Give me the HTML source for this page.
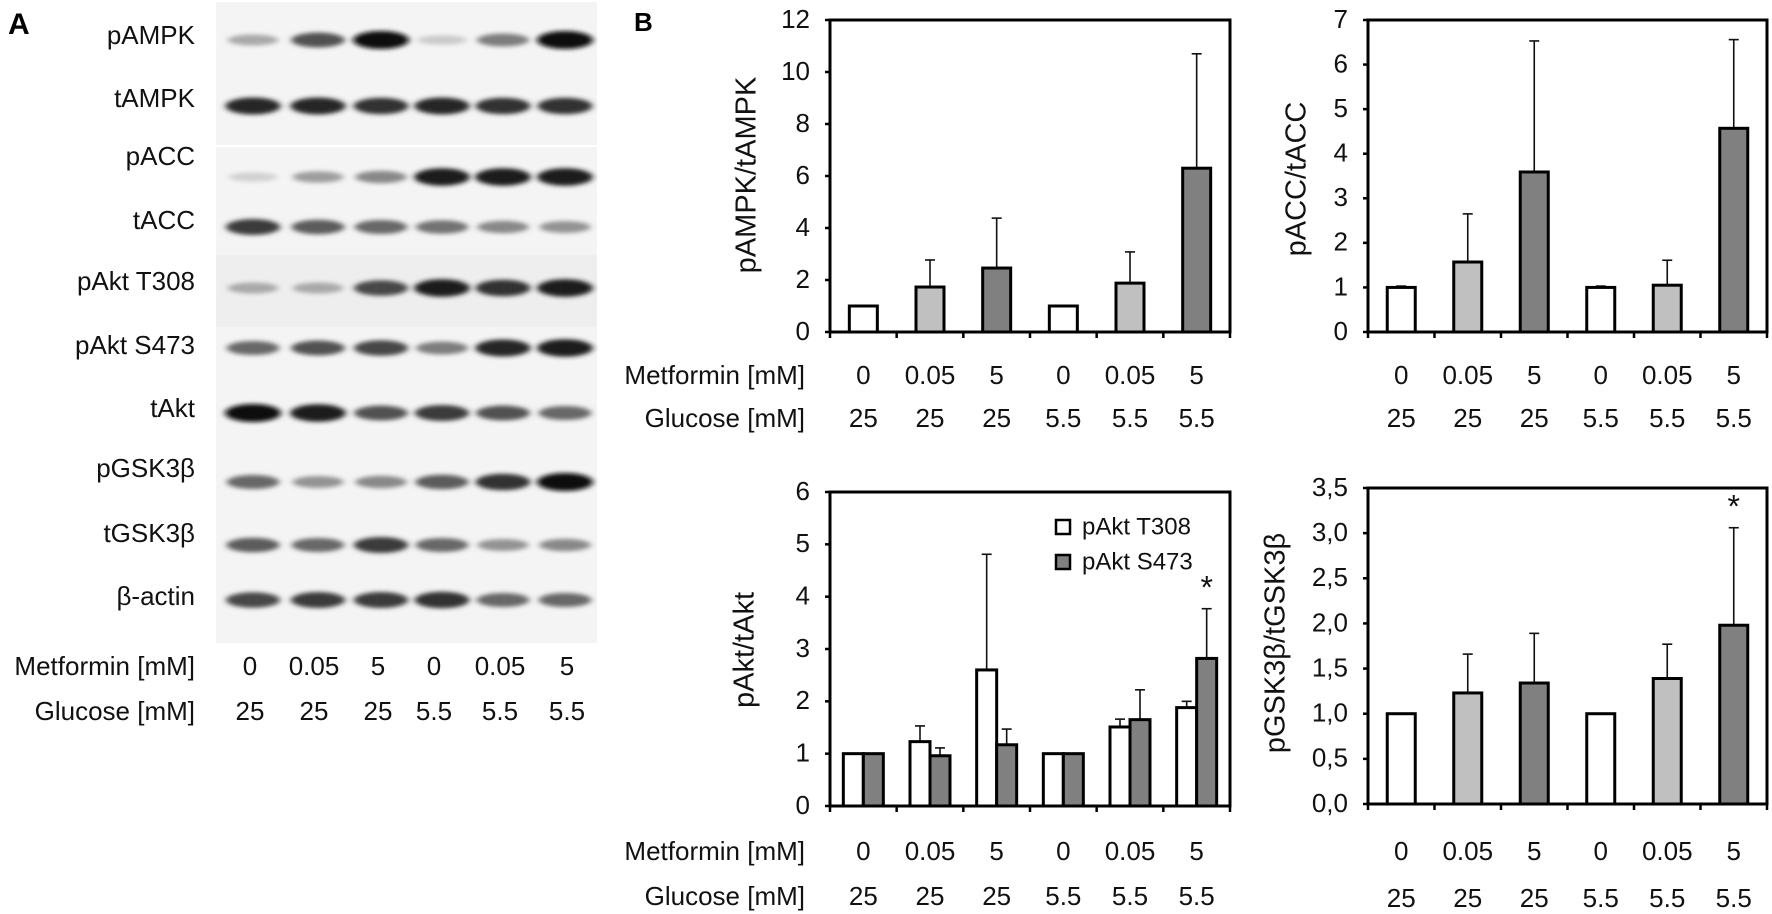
<!DOCTYPE html>
<html><head><meta charset="utf-8"><style>
html,body{margin:0;padding:0;background:#fff;}
svg{display:block;font-family:"Liberation Sans",Arial,sans-serif;}
</style></head><body>
<svg id="fig" width="1772" height="914" viewBox="0 0 1772 914" xmlns="http://www.w3.org/2000/svg">
<defs>
<filter id="blur" x="-30%" y="-200%" width="160%" height="500%"><feGaussianBlur stdDeviation="3.2 2.2"/></filter>
</defs>
<text x="8" y="34" font-size="30" font-weight="bold">A</text>
<text x="634" y="31" font-size="26" font-weight="bold">B</text>
<g id="blots"></g>
<g id="charts"></g>
</svg>
<script>
const NS = "http://www.w3.org/2000/svg";
const svg = document.getElementById('fig');
function mk(tag, attrs, parent){const e=document.createElementNS(NS,tag);for(const k in attrs)e.setAttribute(k,attrs[k]);(parent||svg).appendChild(e);return e;}

// ---- Western blot data ----
const blotNames = ["pAMPK","tAMPK","pACC","tACC","pAkt T308","pAkt S473","tAkt","pGSK3β","tGSK3β","β-actin"];
const blotIntensity = [
 [0.3,0.7,1.0,0.15,0.5,1.0],
 [0.9,0.9,0.85,0.9,0.85,0.85],
 [0.12,0.35,0.45,0.95,0.95,0.95],
 [0.8,0.65,0.6,0.55,0.45,0.4],
 [0.3,0.3,0.75,0.95,0.85,0.95],
 [0.6,0.7,0.75,0.5,0.9,0.95],
 [1.0,0.95,0.7,0.8,0.7,0.6],
 [0.6,0.4,0.45,0.65,0.85,1.0],
 [0.65,0.6,0.8,0.6,0.4,0.45],
 [0.75,0.8,0.8,0.85,0.6,0.6]
];
const blotMetformin = ["0","0.05","5","0","0.05","5"];
const blotGlucose = ["25","25","25","5.5","5.5","5.5"];

const stripTop=[2,72,147,205,255,327,380,447,517,575];
const stripBot=[72,145,205,255,327,380,447,517,575,643];
const labelY=[37,100,158,222,283,347,410,470,535,598];
const bandY=[40,106,177,227,288,348,413,482,545,600];
const laneX=[253,318,381,442,503,565];
const blotG=document.getElementById('blots');
blotNames.forEach((n,i)=>{
  const strip=mk('rect',{x:216,y:stripTop[i],width:381,height:stripBot[i]-stripTop[i],fill:i===4?'#eeeeee':'#f4f4f4'},blotG);
  
  
  const t=mk('text',{x:195,y:labelY[i],'font-size':26,'text-anchor':'end','dominant-baseline':'middle',fill:'#111'},blotG);
  t.textContent=n;
  
  
  blotIntensity[i].forEach((v,j)=>{
    const g=Math.round(235-220*v);
    const b=mk('ellipse',{cx:laneX[j],cy:bandY[i],rx:24+v*4,ry:4+v*5,fill:`rgb(${g},${g},${g})`,filter:'url(#blur)'},blotG);
    
    
  });
});
function rowText(txt,x,y,anchor,name,parent){const t=mk('text',{x:x,y:y,'font-size':26,'text-anchor':anchor,'dominant-baseline':'middle',fill:'#111'},parent);t.textContent=txt;return t;}
rowText('Metformin [mM]',195,668,'end','blot-metformin-title',blotG);
rowText('Glucose [mM]',195,713,'end','blot-glucose-title',blotG);
const blotLabelX=[250,314,378,434,500,567];
blotMetformin.forEach((m,j)=>rowText(m,blotLabelX[j],668,'middle','blot-metformin-label',blotG));
blotGlucose.forEach((m,j)=>rowText(m,blotLabelX[j],713,'middle','blot-glucose-label',blotG));

// ---- Chart data ----
const metforminLabels = ["0","0.05","5","0","0.05","5"];
const glucoseLabels = ["25","25","25","5.5","5.5","5.5"];
const barFills = ["#ffffff","#c0c0c0","#808080","#ffffff","#c0c0c0","#808080"];
const ampkMean = [1.0,1.73,2.46,1.0,1.88,6.3];
const ampkErr  = [0,1.04,1.92,0,1.2,4.4];
const accMean = [1.0,1.57,3.59,1.0,1.05,4.57];
const accErr  = [0.03,1.08,2.94,0.03,0.56,1.99];
const aktT308Mean = [1.0,1.23,2.6,1.0,1.51,1.88];
const aktT308Err  = [0,0.3,2.21,0,0.15,0.12];
const aktS473Mean = [1.0,0.96,1.17,1.0,1.65,2.82];
const aktS473Err  = [0,0.15,0.3,0,0.57,0.95];
const gskMean = [1.0,1.23,1.34,1.0,1.39,1.98];
const gskErr  = [0,0.43,0.55,0,0.38,1.08];
const ampkTicks = [0,2,4,6,8,10,12];
const accTicks = [0,1,2,3,4,5,6,7];
const aktTicks = [0,1,2,3,4,5,6];
const gskTicks = ["0,0","0,5","1,0","1,5","2,0","2,5","3,0","3,5"];

const chartsG=document.getElementById('charts');
function chart(cfg){
  const g=mk('g',{},chartsG);
  
  
  const n=metforminLabels.length, cw=(cfg.x1-cfg.x0)/n;
  const ys=v=>cfg.zero-(v/cfg.ymax)*(cfg.zero-cfg.top);
  const xc=i=>cfg.x0+(i+0.5)*cw;
  cfg.series.forEach((s,si)=>{
    s.mean.forEach((v,i)=>{
      const bx=xc(i)+s.off-s.w/2;
      const yt=ys(v);
      if(s.err[i]>0){
        const ye=ys(v+s.err[i]);
        const l=mk('line',{x1:xc(i)+s.off,x2:xc(i)+s.off,y1:yt,y2:ye,stroke:'#111','stroke-width':1.6},g);
        
        
        mk('line',{x1:xc(i)+s.off-5,x2:xc(i)+s.off+5,y1:ye,y2:ye,stroke:'#111','stroke-width':1.6},g);
      }
      const r=mk('rect',{x:bx,y:yt,width:s.w,height:cfg.zero-yt,fill:s.fill?s.fill(i):barFills[i],stroke:'#000','stroke-width':3},g);
      
      
    });
  });
  const f=mk('path',{d:`M${cfg.x0},${cfg.zero} L${cfg.x0},${cfg.top} L${cfg.x1},${cfg.top} L${cfg.x1},${cfg.zero} Z`,fill:'none',stroke:'#000','stroke-width':3},g);
  
  
  for(let i=0;i<=n;i++){const x=cfg.x0+i*cw;mk('line',{x1:x,x2:x,y1:cfg.zero,y2:cfg.zero+6,stroke:'#000','stroke-width':2.5},g);}
  cfg.ticks.forEach((t,i)=>{
    const v=cfg.tickVals?cfg.tickVals[i]:t;
    const y=ys(v);
    mk('line',{x1:cfg.x0-5,x2:cfg.x0,y1:y,y2:y,stroke:'#000','stroke-width':2.5},g);
    const tx=mk('text',{x:cfg.x0-20,y:y+1,'font-size':26,'text-anchor':'end','dominant-baseline':'middle',fill:'#111'},g);
    tx.textContent=t;
    
    
  });
  const tt=mk('text',{x:cfg.tx,y:cfg.ty,'font-size':29,'text-anchor':'middle','dominant-baseline':'middle',transform:`rotate(-90 ${cfg.tx} ${cfg.ty})`,fill:'#111'},g);
  tt.textContent=cfg.title;
  
  
  metforminLabels.forEach((m,i)=>rowText(m,xc(i),cfg.r1,'middle','metformin-label',g));
  glucoseLabels.forEach((m,i)=>rowText(m,xc(i),cfg.r2,'middle','glucose-label',g));
  if(cfg.rowTitles){rowText('Metformin [mM]',805,cfg.r1,'end','metformin-row-title',g);rowText('Glucose [mM]',805,cfg.r2,'end','glucose-row-title',g);}
  if(cfg.star!==undefined){const s=cfg.series[cfg.starSeries];const i=cfg.star;const y=ys(s.mean[i]+s.err[i]);
    const st=mk('text',{x:xc(i)+s.off,y:y-10,'font-size':32,'text-anchor':'middle',fill:'#111'},g);st.textContent='*';
    
    }
  return g;
}
chart({name:'pampk-chart',x0:830,x1:1230,top:20,zero:332,ymax:12,ticks:ampkTicks,title:'pAMPK/tAMPK',tx:748,ty:175,r1:377,r2:420,rowTitles:true,
  series:[{key:'pampk',mean:ampkMean,err:ampkErr,w:28,off:0}]});
chart({name:'pacc-chart',x0:1368,x1:1767,top:20,zero:332,ymax:7,ticks:accTicks,title:'pACC/tACC',tx:1298,ty:179,r1:377,r2:420,
  series:[{key:'pacc',mean:accMean,err:accErr,w:28,off:0}]});
chart({name:'pakt-chart',x0:830,x1:1230,top:492,zero:806,ymax:6,ticks:aktTicks,title:'pAkt/tAkt',tx:746,ty:650,r1:853,r2:898,rowTitles:true,star:5,starSeries:1,
  series:[{key:'t308',mean:aktT308Mean,err:aktT308Err,w:20,off:-10,fill:()=> '#ffffff'},{key:'s473',mean:aktS473Mean,err:aktS473Err,w:20,off:10,fill:()=> '#808080'}]});
chart({name:'pgsk-chart',x0:1368,x1:1767,top:488,zero:804,ymax:3.5,ticks:gskTicks,tickVals:gskTicks.map(s=>parseFloat(s.replace(',','.'))),title:'pGSK3β/tGSK3β',tx:1277,ty:643,r1:853,r2:900,star:5,starSeries:0,
  series:[{key:'pgsk',mean:gskMean,err:gskErr,w:28,off:0}]});

const lg=mk('g',{},chartsG);


mk('rect',{x:1056,y:520,width:14,height:14,fill:'#fff',stroke:'#000','stroke-width':2.5},lg);
mk('rect',{x:1056,y:555,width:14,height:14,fill:'#808080',stroke:'#000','stroke-width':2.5},lg);
const l1=mk('text',{x:1082,y:528,'font-size':24,'dominant-baseline':'middle',fill:'#111'},lg);l1.textContent='pAkt T308';


const l2=mk('text',{x:1082,y:563,'font-size':24,'dominant-baseline':'middle',fill:'#111'},lg);l2.textContent='pAkt S473';


</script>
</body></html>
